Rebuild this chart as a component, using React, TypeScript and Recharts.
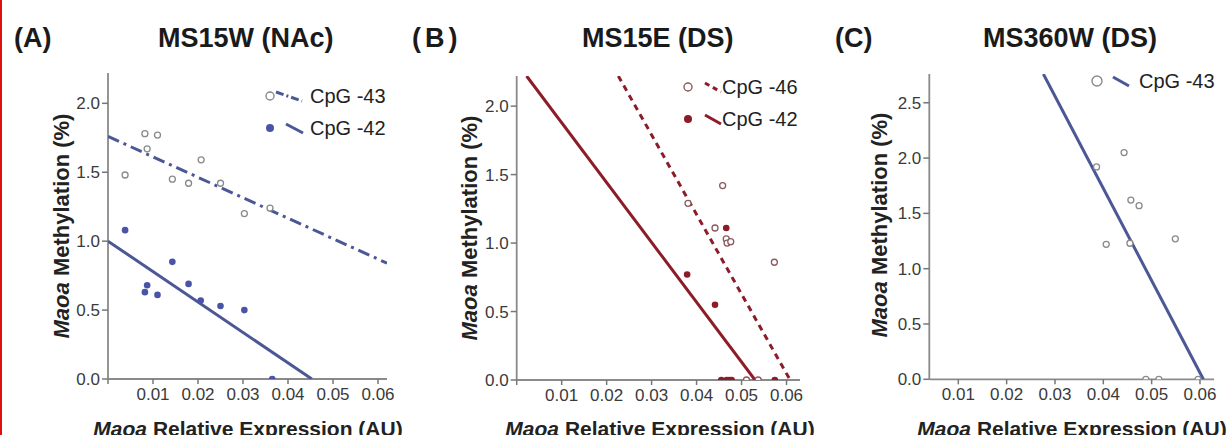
import React from "react";
import { ScatterChart, Scatter, XAxis, YAxis } from "recharts";

// ---- Panel A: MS15W (NAc) ----
const aCpg43X = [0.0038, 0.0082, 0.011, 0.0087, 0.0143, 0.0179, 0.0207, 0.025, 0.0303, 0.036];
const aCpg43Y = [1.48, 1.78, 1.77, 1.67, 1.45, 1.42, 1.59, 1.42, 1.2, 1.24];
const aCpg42X = [0.0038, 0.0082, 0.0087, 0.011, 0.0143, 0.0179, 0.0206, 0.025, 0.0303, 0.0365];
const aCpg42Y = [1.08, 0.63, 0.68, 0.61, 0.85, 0.69, 0.57, 0.53, 0.5, 0.0];
const aFit43 = [[0, 1.76], [0.062, 0.84]];
const aFit42 = [[0, 1.0], [0.0453, 0.0]];

// ---- Panel B: MS15E (DS) ----
const bCpg46X = [0.0381, 0.0458, 0.0441, 0.0466, 0.0468, 0.0476, 0.0573, 0.0511, 0.0537];
const bCpg46Y = [1.29, 1.42, 1.11, 1.03, 1.0, 1.01, 0.86, 0.0, 0.0];
const bCpg42X = [0.0379, 0.0441, 0.0466, 0.0455, 0.0467, 0.0473, 0.0478, 0.0574];
const bCpg42Y = [0.77, 0.55, 1.11, 0.0, 0.0, 0.0, 0.0, 0.0];
const bFit46 = [[0.0226, 2.22], [0.0608, 0.0]];
const bFit42 = [[0.0022, 2.22], [0.053, 0.0]];

// ---- Panel C: MS360W (DS) ----
const cCpg43X = [0.0386, 0.0443, 0.0457, 0.0474, 0.0406, 0.0455, 0.0549, 0.0488, 0.0515, 0.0596];
const cCpg43Y = [1.92, 2.05, 1.62, 1.57, 1.22, 1.23, 1.27, 0.0, 0.0, 0.0];
const cFit43 = [[0.0276, 2.76], [0.0607, 0.0]];

// ---- ticks ----
const xTicksAB = [0, 0.01, 0.02, 0.03, 0.04, 0.05, 0.06];
const xTicksC = [0.01, 0.02, 0.03, 0.04, 0.05, 0.06];
const yTicksAB = [0, 0.5, 1.0, 1.5, 2.0];
const yTicksC = [0, 0.5, 1.0, 1.5, 2.0, 2.5];

const BLUE = "#4b5895";
const BLUE_DOT = "#4a54a6";
const RED = "#8c1c28";
const FONT = "'Liberation Sans', Arial, sans-serif";

const zip = (xs: number[], ys: number[]) => xs.map((x, i) => ({ x, y: ys[i] }));
const pairs = (p: number[][]) => p.map(([x, y]) => ({ x, y }));

const openDot = (stroke: string) => (p: any) =>
  <circle cx={p.cx} cy={p.cy} r={3} fill="#fff" stroke={stroke} strokeWidth={1.3} />;
const filledDot = (fill: string) => (p: any) =>
  <circle cx={p.cx} cy={p.cy} r={3.3} fill={fill} stroke="none" />;
const noDot = () => <g />;

interface SeriesDef {
  data: { x: number; y: number }[];
  kind: "open" | "filled" | "fit";
  color: string;
  dash?: string;
}

interface PanelProps {
  left: number;
  width: number;
  plotLeft: number;
  plotRight: number;
  plotTop: number;
  plotBottom: number;
  xDomain: [number, number];
  xTicks: number[];
  yDomain: [number, number];
  yTicks: number[];
  series: SeriesDef[];
}

function Panel(props: PanelProps) {
  const H = 435;
  const xAxisH = 30;
  const tick = { fontSize: 17, fill: "#3a3a3a", fontFamily: FONT };
  return (
    <div style={{ position: "absolute", left: props.left, top: 0 }}>
      <ScatterChart
        width={props.width}
        height={H}
        margin={{
          top: props.plotTop,
          right: props.left + props.width - props.plotRight,
          bottom: H - props.plotBottom - xAxisH,
          left: 0,
        }}
      >
        <XAxis
          type="number"
          dataKey="x"
          domain={props.xDomain}
          ticks={props.xTicks}
          interval={0}
          allowDataOverflow
          height={xAxisH}
          tick={tick}
          tickSize={5}
          tickMargin={4}
          tickLine={{ stroke: "#777", strokeWidth: 1.5 }}
          axisLine={{ stroke: "#8a8a8a", strokeWidth: 1.8 }}
          tickFormatter={(v: number) => (v === 0 ? "" : v.toFixed(2))}
        />
        <YAxis
          type="number"
          dataKey="y"
          domain={props.yDomain}
          ticks={props.yTicks}
          interval={0}
          allowDataOverflow
          width={props.plotLeft - props.left}
          tick={tick}
          tickSize={6}
          tickMargin={2}
          tickLine={{ stroke: "#777", strokeWidth: 1.5 }}
          axisLine={{ stroke: "#8a8a8a", strokeWidth: 1.8 }}
          tickFormatter={(v: number) => v.toFixed(1)}
        />
        {props.series
          .filter((s) => s.kind === "fit")
          .map((s, i) => (
            <Scatter
              key={"fit" + i}
              data={s.data}
              line={{ stroke: s.color, strokeWidth: 3, strokeDasharray: s.dash }}
              shape={noDot}
              isAnimationActive={false}
            />
          ))}
        {props.series
          .filter((s) => s.kind !== "fit")
          .map((s, i) => (
            <Scatter
              key={"pts" + i}
              data={s.data}
              shape={s.kind === "open" ? openDot(s.color) : filledDot(s.color)}
              isAnimationActive={false}
            />
          ))}
      </ScatterChart>
    </div>
  );
}

function LegendRow({ x, y, open, color, lineColor, dash, label, r = 4, l0 = 15, l1 = 32, tx = 38 }: any) {
  return (
    <g>
      {open ? (
        <circle cx={x} cy={y} r={r} fill="#fff" stroke={color} strokeWidth={1.4} />
      ) : (
        <circle cx={x} cy={y} r={r} fill={color} />
      )}
      <line
        x1={x + l0}
        y1={y - 4}
        x2={x + l1}
        y2={y + 5}
        stroke={lineColor}
        strokeWidth={3}
        strokeDasharray={dash}
      />
      <text x={x + tx} y={y + 7} fontSize={20} fill="#222" fontFamily={FONT}>
        {label}
      </text>
    </g>
  );
}

function YLabel({ x, y }: { x: number; y: number }) {
  return (
    <text
      x={x}
      y={y}
      transform={`rotate(-90 ${x} ${y})`}
      textAnchor="middle"
      fontSize={22}
      fontWeight="bold"
      fill="#222"
      fontFamily={FONT}
    >
      <tspan fontStyle="italic">Maoa</tspan> Methylation (%)
    </text>
  );
}

function XLabel({ x }: { x: number }) {
  return (
    <text x={x} y={436} textAnchor="middle" fontSize={21} fontWeight="bold" fill="#222" fontFamily={FONT}>
      <tspan fontStyle="italic">Maoa</tspan> Relative Expression (AU)
    </text>
  );
}

export default function App() {
  const titleStyle = { fontSize: 27, fontWeight: "bold" as const, fill: "#1a1a1a", fontFamily: FONT };
  return (
    <div
      style={{
        position: "absolute",
        left: 0,
        top: 0,
        width: 1227,
        height: 435,
        background: "#fff",
        overflow: "hidden",
      }}
    >
      <Panel
        left={0}
        width={400}
        plotLeft={108}
        plotRight={387}
        plotTop={73}
        plotBottom={379}
        xDomain={[0, 0.062]}
        xTicks={xTicksAB}
        yDomain={[0, 2.22]}
        yTicks={yTicksAB}
        series={[
          { data: pairs(aFit43), kind: "fit", color: BLUE, dash: "12 5 3 5" },
          { data: pairs(aFit42), kind: "fit", color: BLUE },
          { data: zip(aCpg43X, aCpg43Y), kind: "open", color: "#8a8a8a" },
          { data: zip(aCpg42X, aCpg42Y), kind: "filled", color: BLUE_DOT },
        ]}
      />
      <Panel
        left={410}
        width={400}
        plotLeft={516.7}
        plotRight={800}
        plotTop={76}
        plotBottom={380}
        xDomain={[0, 0.063]}
        xTicks={xTicksAB}
        yDomain={[0, 2.22]}
        yTicks={yTicksAB}
        series={[
          { data: pairs(bFit46), kind: "fit", color: RED, dash: "6 5" },
          { data: pairs(bFit42), kind: "fit", color: RED },
          { data: zip(bCpg46X, bCpg46Y), kind: "open", color: "#8a5a5e" },
          { data: zip(bCpg42X, bCpg42Y), kind: "filled", color: RED },
        ]}
      />
      <Panel
        left={820}
        width={407}
        plotLeft={929.3}
        plotRight={1214}
        plotTop={74}
        plotBottom={379.3}
        xDomain={[0.004, 0.0629]}
        xTicks={xTicksC}
        yDomain={[0, 2.76]}
        yTicks={yTicksC}
        series={[
          { data: pairs(cFit43), kind: "fit", color: BLUE },
          { data: zip(cCpg43X, cCpg43Y), kind: "open", color: "#8a8a8a" },
        ]}
      />
      <svg
        width={1227}
        height={435}
        style={{ position: "absolute", left: 0, top: 0, pointerEvents: "none" }}
      >
        <text x={14} y={47} {...titleStyle}>(A)</text>
        <text x={158} y={47} {...titleStyle}>MS15W (NAc)</text>
        <text x={412} y={47} {...titleStyle} letterSpacing={4}>(B)</text>
        <text x={582} y={47} {...titleStyle}>MS15E (DS)</text>
        <text x={835} y={47} {...titleStyle}>(C)</text>
        <text x={983} y={47} {...titleStyle}>MS360W (DS)</text>

        <YLabel x={69} y={226} />
        <YLabel x={477} y={228} />
        <YLabel x={887} y={225} />
        <XLabel x={248} />
        <XLabel x={660} />
        <XLabel x={1072} />

        <LegendRow x={270} y={96} open color="#8a8a8a" lineColor={BLUE} dash="8 3 2 3" l0={6} l1={32} tx={40} label="CpG -43" />
        <LegendRow x={270} y={128} color={BLUE_DOT} lineColor={BLUE} l0={16} l1={33} tx={40} label="CpG -42" />
        <LegendRow x={688} y={87} open color="#8a5a5e" lineColor={RED} dash="5 4" l0={17} l1={33} tx={34} label="CpG -46" />
        <LegendRow x={688} y={119} color={RED} lineColor={RED} l0={17} l1={33} tx={34} label="CpG -42" />
        <LegendRow x={1097} y={81} open r={5} color="#8a8a8a" lineColor={BLUE} l0={16} l1={32} tx={42} label="CpG -43" />
      </svg>
      <div style={{ position: "absolute", left: 0, top: 0, width: 2, height: 435, background: "#e01010" }} />
    </div>
  );
}
